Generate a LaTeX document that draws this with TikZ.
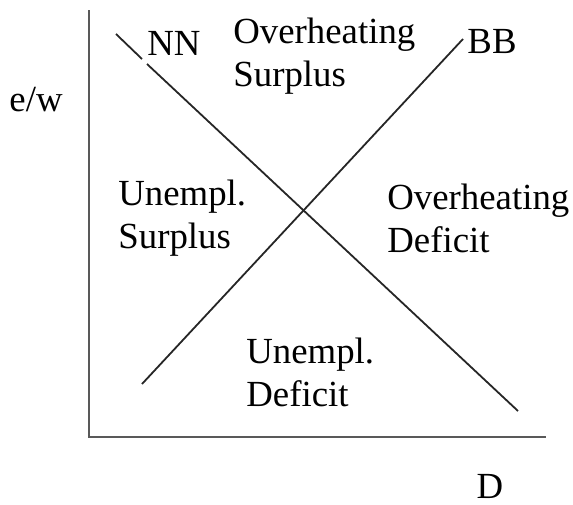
\documentclass[tikz,border=0pt]{standalone}
\usepackage{fontspec}
\setmainfont{Liberation Serif}
\usetikzlibrary{positioning}

\begin{document}
\begin{tikzpicture}[x=0.5pt, y=-0.5pt,
    lbl/.style={inner sep=0pt, font=\fontsize{18.4}{21.5}\selectfont},
    region/.style={lbl, align=left, anchor=west},
    axis/.style={line width=1.1pt, black!65},
    curve/.style={line width=0.9pt, black!85}
]
\useasboundingbox (0,0) rectangle (573,504);

% axes
\coordinate (top) at (89,10);
\coordinate (origin) at (89,437);
\coordinate (right) at (546,437);
\draw[axis] (top) -- (origin) -- (right);

% the two schedules
\coordinate (nnA) at (116,34);
\coordinate (nnB) at (142,59);
\coordinate (nnC) at (147,64);
\coordinate (nnD) at (518,411);
\coordinate (bbA) at (142,384);
\coordinate (bbB) at (463,39);
\draw[curve] (nnA) -- (nnB);
\draw[curve] (nnC) -- (nnD);
\draw[curve] (bbA) -- (bbB);

% labels
\node[lbl] (ew) at (36,100) {e/w};
\node[lbl] (dlab) at (490,486) {D};
\node[lbl] (nn) at (174,43) {NN};
\node[lbl] (bb) at (492,42) {BB};

\node[region] (ovsur) at (233,56) {Overheating\\Surplus};
\node[region] (unsur) at (118,218) {Unempl.\\Surplus};
\node[region] (ovdef) at (387,218) {Overheating\\Deficit};
\node[region] (undef) at (246,372) {Unempl.\\Deficit};
\end{tikzpicture}
\end{document}
